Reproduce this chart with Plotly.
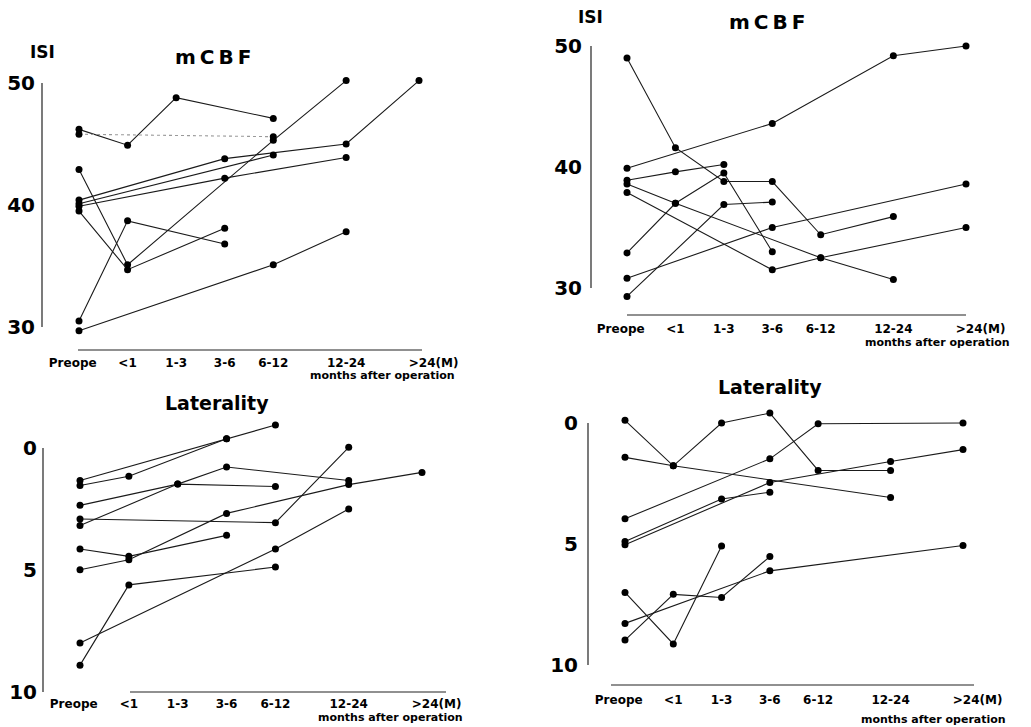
import plotly.graph_objects as go

# ---------------- data ----------------
categories = ["Preope", "<1", "1-3", "3-6", "6-12", "12-24", ">24(M)"]
category_x = [0, 1, 2, 3, 4, 5.5, 7]   # uneven spacing of the time bins in the original

N = None
mcbf_left = [
    [46.2, 44.9, 48.8, N, 47.1, N, N],
    [45.8, N, N, N, 45.6, N, N],
    [42.9, 35.1, N, N, 45.3, 50.2, N],
    [40.4, N, N, 43.8, N, 45.0, 50.2],
    [40.1, N, N, N, 44.1, N, N],
    [39.9, N, N, 42.2, N, 43.9, N],
    [39.5, 34.7, N, 38.1, N, N, N],
    [30.5, 38.7, N, 36.8, N, N, N],
    [29.7, N, N, N, 35.1, 37.8, N],
]
mcbf_right = [
    [39.9, N, N, 43.6, N, 49.2, 50.0],
    [49.0, 41.6, 38.8, 38.8, 34.4, 35.9, N],
    [38.9, 39.6, 40.2, N, N, N, N],
    [32.9, 37.0, 39.5, 33.0, N, N, N],
    [38.6, 37.0, N, N, 32.5, 30.7, N],
    [37.9, N, N, 31.5, 32.5, N, 35.0],
    [30.8, N, N, 35.0, N, N, 38.6],
    [29.3, N, 36.9, 37.1, N, N, N],
]
lat_left = [
    [1.33, N, N, -0.38, -0.94, N, N],
    [1.54, 1.16, N, -0.38, N, N, N],
    [2.35, N, 1.48, N, 1.58, N, N],
    [3.18, N, 1.48, 0.78, N, 1.33, N],
    [2.91, N, N, N, 3.06, -0.03, N],
    [4.14, 4.44, N, 3.58, N, N, N],
    [4.99, 4.58, N, 2.68, N, 1.5, 1.0],
    [8.9, 5.61, N, N, 4.88, N, N],
    [7.99, N, N, N, 4.14, 2.5, N],
]
lat_right = [
    [-0.11, 1.77, 0.0, -0.41, 1.96, 1.96, N],
    [1.42, 1.77, N, N, N, 3.08, N],
    [3.96, N, N, 1.48, 0.03, N, 0.0],
    [4.9, N, 3.14, 2.86, N, N, N],
    [5.03, N, N, 2.46, N, 1.59, 1.1],
    [7.0, 9.13, 5.08, N, N, N, N],
    [8.97, 7.08, 7.21, 5.52, N, N, N],
    [8.28, N, N, 6.11, N, N, 5.06],
]
mcbf_ticks = [30, 40, 50]
lat_ticks = [0, 5, 10]

# faint (lightly printed) series in the scan
faint = {("", 1)}

# ---------------- layout helpers ----------------
W, H = 1031, 727
FONT = "DejaVu Sans"
NB = "\u00a0"


def pxx(x):
    return x / W


def pxy(y):
    return 1 - y / H


panels = [
    dict(data=mcbf_left, ax="", x0=79, x7=419, xdom=(42, 470), ya=(50, 83), yb=(30, 327),
         ydom=(70, 350), ticks=mcbf_ticks, vline=(30, 50), hline=(78, 422), xso=4, yso=6),
    dict(data=mcbf_right, ax="2", x0=627, x7=966, xdom=(591, 1020), ya=(50, 46), yb=(30, 288),
         ydom=(35, 315), ticks=mcbf_ticks, vline=(30, 50), hline=(627, 966), xso=5, yso=8),
    dict(data=lat_left, ax="3", x0=80, x7=422, xdom=(43, 470), ya=(0, 448), yb=(10, 692),
         ydom=(410, 692), ticks=lat_ticks, vline=(0, 10), hline=(130, 446), xso=3, yso=5),
    dict(data=lat_right, ax="4", x0=625, x7=963, xdom=(588, 1020), ya=(0, 423), yb=(10, 665),
         ydom=(395, 685), ticks=lat_ticks, vline=(0, 10), hline=(611, 974), xso=6, yso=9),
]

ticktext = ["Preope" + NB * 3] + categories[1:-1] + [NB * 7 + categories[-1]]

fig = go.Figure()
layout = dict(width=W, height=H, margin=dict(l=0, r=0, t=0, b=0, autoexpand=False),
              paper_bgcolor="white", plot_bgcolor="white", showlegend=False)
shapes = []

for p in panels:
    a = (p["x7"] - p["x0"]) / 7.0
    xr = [(p["xdom"][0] - p["x0"]) / a, (p["xdom"][1] - p["x0"]) / a]
    v1, p1 = p["ya"]
    v2, p2 = p["yb"]

    def val(py_, v1=v1, p1=p1, v2=v2, p2=p2):
        return v1 + (py_ - p1) * (v2 - v1) / (p2 - p1)

    yr = [val(p["ydom"][1]), val(p["ydom"][0])]
    xn, yn = "xaxis" + p["ax"], "yaxis" + p["ax"]
    xid, yid = "x" + p["ax"], "y" + p["ax"]

    layout[xn] = dict(domain=[pxx(p["xdom"][0]), pxx(p["xdom"][1])], range=xr, anchor=yid,
                      tickvals=category_x, ticktext=ticktext, ticks="", showgrid=False,
                      zeroline=False, showline=False, automargin=False,
                      ticklabelstandoff=p["xso"],
                      tickfont=dict(family=FONT, size=12, color="black", weight="bold"))
    layout[yn] = dict(domain=[pxy(p["ydom"][1]), pxy(p["ydom"][0])], range=yr, anchor=xid,
                      tickvals=p["ticks"], ticks="", showgrid=False, zeroline=False, showline=False,
                      automargin=False, ticklabelstandoff=p["yso"],
                      tickfont=dict(family=FONT, size=20, color="black", weight="bold"))

    for k, series in enumerate(p["data"]):
        xs = [category_x[i] for i, v in enumerate(series) if v is not None]
        ys = [v for v in series if v is not None]
        is_faint = (p["ax"], k) in faint
        fig.add_trace(go.Scatter(x=xs, y=ys, xaxis=xid, yaxis=yid, mode="lines+markers",
                                 line=dict(color="#9a9a9a" if is_faint else "#1a1a1a", width=1.1,
                                           dash="dot" if is_faint else "solid"),
                                 marker=dict(color="black", size=7), cliponaxis=False))

    shapes.append(dict(type="line", xref=xid + " domain", yref=yid, x0=0, x1=0,
                       y0=p["vline"][0], y1=p["vline"][1], line=dict(color="#222", width=1.2)))
    shapes.append(dict(type="line", xref=xid, yref=yid + " domain",
                       x0=(p["hline"][0] - p["x0"]) / a, x1=(p["hline"][1] - p["x0"]) / a,
                       y0=0, y1=0, line=dict(color="#222", width=1.2)))

layout["shapes"] = shapes


def ann(text, x, y, size, xanchor="center"):
    return dict(text=text, x=pxx(x), y=pxy(y), xref="paper", yref="paper", showarrow=False,
                xanchor=xanchor, yanchor="middle",
                font=dict(family=FONT, size=size, color="black", weight="bold"))


T = "\u2009"
layout["annotations"] = [
    ann("ISI", 42, 52, 17),
    ann("m" + T + "C" + T + "B" + T + "F", 213, 57, 20),
    ann("ISI", 590, 17, 17),
    ann("m" + T + "C" + T + "B" + T + "F", 767, 22, 20),
    ann("Laterality", 217, 403, 19),
    ann("Laterality", 770, 387, 19),
    ann("months after operation", 382, 375, 11),
    ann("months after operation", 937, 342, 11),
    ann("months after operation", 390, 717, 11),
    ann("months after operation", 933, 719, 11),
]

fig.update_layout(**layout)
fig.write_html("out.html")
